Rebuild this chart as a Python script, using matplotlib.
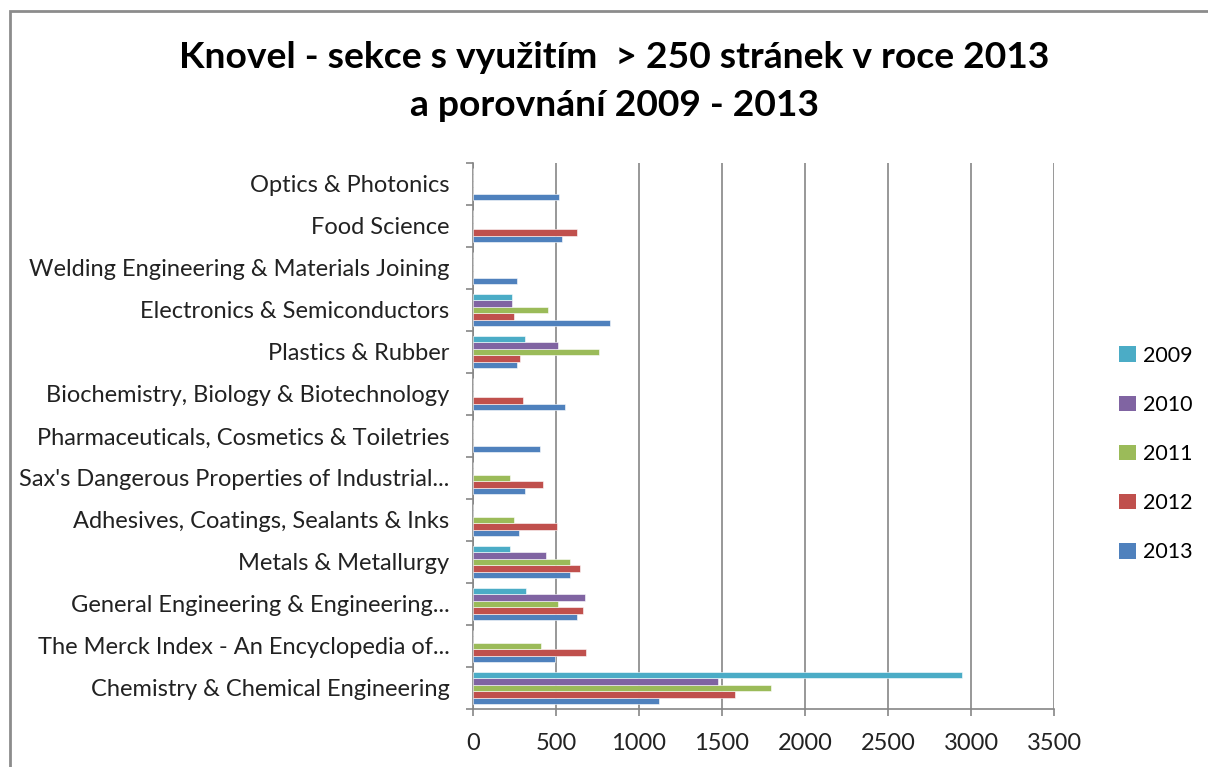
import numpy as np
import matplotlib.pyplot as plt
from matplotlib.patches import Patch, Rectangle

# categories listed bottom -> top as drawn
categories = [
    "Chemistry & Chemical Engineering",
    "The Merck Index - An Encyclopedia of...",
    "General Engineering & Engineering...",
    "Metals & Metallurgy",
    "Adhesives, Coatings, Sealants & Inks",
    "Sax's Dangerous Properties of Industrial...",
    "Pharmaceuticals, Cosmetics & Toiletries",
    "Biochemistry, Biology & Biotechnology",
    "Plastics & Rubber",
    "Electronics & Semiconductors",
    "Welding Engineering & Materials Joining",
    "Food Science",
    "Optics & Photonics",
]

v2009 = [2945, 0, 319, 223, 0, 0, 0, 0, 313, 235, 0, 0, 0]
v2010 = [1475, 0, 677, 440, 0, 0, 0, 0, 512, 235, 0, 0, 0]
v2011 = [1793, 408, 512, 587, 247, 223, 0, 0, 759, 452, 0, 0, 0]
v2012 = [1576, 683, 661, 647, 506, 422, 0, 301, 283, 247, 0, 626, 0]
v2013 = [1122, 492, 626, 587, 277, 313, 403, 554, 265, 825, 265, 536, 518]

years = ["2013", "2012", "2011", "2010", "2009"]
series = [v2013, v2012, v2011, v2010, v2009]
colors = ["#4F81BD", "#C0504D", "#9BBB59", "#8064A2", "#4BACC6"]

plt.rcParams["font.family"] = ["Lato", "DejaVu Sans"]

fig = plt.figure(figsize=(12.08, 7.67), dpi=100)
ax = fig.add_axes([473 / 1208, 58 / 767, 581 / 1208, 546 / 767])

# chart border
fig.patches.append(Rectangle((10 / 1208, -0.1), 1.2, (767 - 11) / 767 + 0.1,
                             transform=fig.transFigure, fill=False,
                             edgecolor="#8c8c8c", linewidth=2))

y = np.arange(len(categories))
bh = 0.157
for i, (vals, c) in enumerate(zip(series, colors)):
    off = (i - 2) * bh
    ax.barh(y + off, vals, height=bh, color=c, edgecolor="white", linewidth=0.4,
            zorder=3)

ax.set_xlim(0, 3500)
ax.set_ylim(-0.5, len(categories) - 0.5)
ax.set_xticks(np.arange(0, 3501, 500))
ax.set_yticks(y)
ax.set_yticklabels(categories)
ax.set_yticks(np.arange(-0.5, len(categories), 1), minor=True)
ax.tick_params(axis="y", which="major", length=0, pad=17, labelsize=17,
               labelcolor="#222222")
ax.tick_params(axis="y", which="minor", length=5, color="#868686", width=1.2)
ax.tick_params(axis="x", length=5, color="#868686", width=1.2, pad=12,
               labelsize=17, labelcolor="#222222")
ax.grid(axis="x", color="#868686", linewidth=1.2, zorder=0)
for s in ["top", "right"]:
    ax.spines[s].set_visible(False)
for s in ["left", "bottom"]:
    ax.spines[s].set_color("#868686")
    ax.spines[s].set_linewidth(1.2)

fig.text(614 / 1208, 1 - 58 / 767,
         "Knovel - sekce s využitím  > 250 stránek v roce 2013",
         ha="center", va="center", fontsize=26.8, fontweight="bold")
fig.text(614 / 1208, 1 - 106 / 767, "a porovnání 2009 - 2013",
         ha="center", va="center", fontsize=26.8, fontweight="bold")

handles = [Patch(facecolor=c, label=l) for c, l in zip(colors[::-1], years[::-1])]
fig.legend(handles=handles, loc="center left",
           bbox_to_anchor=(1100 / 1208, 1 - 454 / 767), frameon=False,
           fontsize=15.5, handlelength=0.75, handleheight=0.75, handletextpad=0.35,
           labelspacing=1.35)

fig.savefig("out.png", dpi=100)
